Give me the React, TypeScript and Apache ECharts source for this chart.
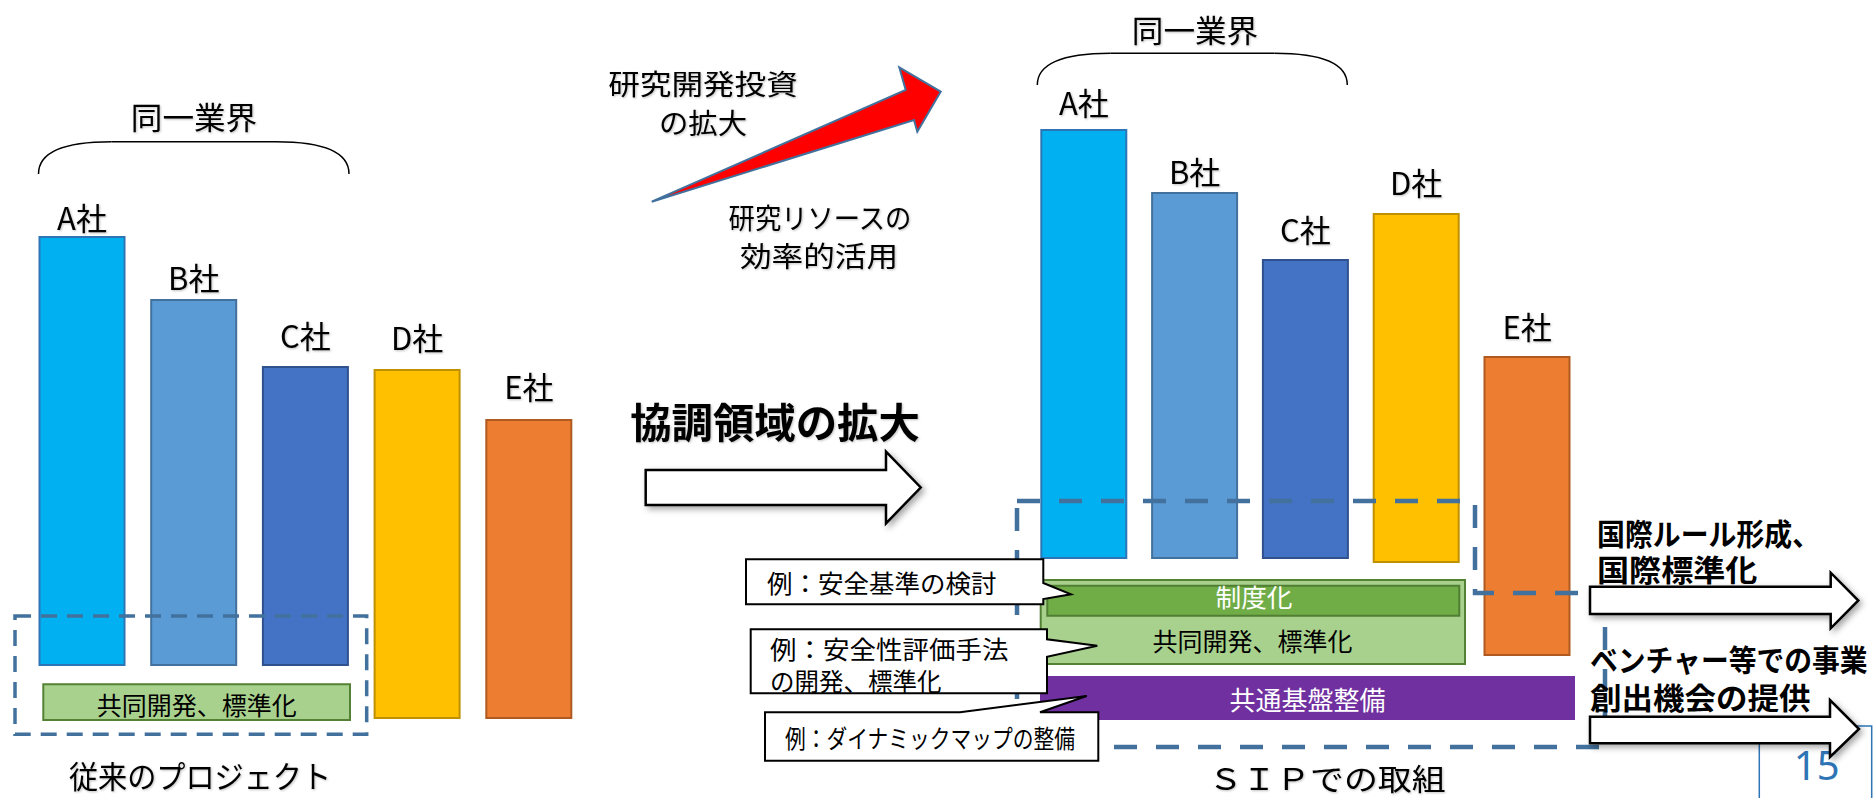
import React, { useEffect, useRef } from 'react';
import * as echarts from 'echarts';

// ---- data ----
const companies = ['A社', 'B社', 'C社', 'D社', 'E社'];
// individual R&D scale of each company (same in both panels)
const companyScale = [430, 367, 300, 350, 300];
// floor level of each company's bar (conventional project / SIP)
const legacyFloor = [132, 132, 132, 79, 79];
const sipFloor = [239, 239, 239, 235, 142];

const industryLabel = '同一業界';
const legacyTitle = '従来のプロジェクト';
const sipTitle = 'ＳＩＰでの取組';
const investLines = ['研究開発投資', 'の拡大'];
const resourceLines = ['研究リソースの', '効率的活用'];
const coopTitle = '協調領域の拡大';
const jointDev = '共同開発、標準化';
const institution = '制度化';
const platform = '共通基盤整備';
const example1 = ['例：安全基準の検討'];
const example2 = ['例：安全性評価手法', 'の開発、標準化'];
const example3 = ['例：ダイナミックマップの整備'];
const outcome1 = ['国際ルール形成、', '国際標準化'];
const outcome2 = ['ベンチャー等での事業', '創出機会の提供'];
const pageNo = '15';

// ---- styles ----
const barColors = ['#00B0F0', '#5B9BD5', '#4472C4', '#FFC000', '#ED7D31'];
const barBorders = ['#2E75B6', '#41719C', '#2F528F', '#BF9000', '#AE5A21'];
const legacyLabelGap = [4, 7.5, 16.5, 17, 18];
const sipLabelGap = [12, 6.5, 15, 16, 15.5];
const FONT = "'Noto Sans CJK JP', 'Noto Sans CJK SC', sans-serif";
const DASH = '#41719C';

function txt(text: string, x: number, y: number, size: number, o: any = {}) {
  return {
    type: 'text',
    x,
    y,
    z: 10,
    scaleX: o.sx ?? 1,
    style: {
      text,
      fill: o.color ?? '#000',
      fontSize: size,
      fontFamily: FONT,
      fontWeight: o.bold ? 'bold' : 'normal',
      align: o.align ?? 'center',
      verticalAlign: 'middle',
      textShadowColor: o.shadow === false ? 'transparent' : 'rgba(0,0,0,0.25)',
      textShadowBlur: o.shadow === false ? 0 : 2,
      textShadowOffsetX: o.shadow === false ? 0 : 1,
      textShadowOffsetY: o.shadow === false ? 0 : 1,
    },
  };
}

function poly(points: number[][], style: any) {
  return { type: 'polygon', z: 10, shape: { points }, style };
}

function rect(x: number, y: number, w: number, h: number, style: any) {
  return { type: 'rect', z: 10, shape: { x, y, width: w, height: h }, style };
}

function brace(x1: number, x2: number, top: number, end: number) {
  const s = { stroke: '#000', lineWidth: 1.5, fill: 'none' };
  const h = end - top;
  return [
    { type: 'bezierCurve', z: 10, shape: { x1, y1: end, cpx1: x1, cpy1: top + h * 0.35, cpx2: x1 + 24, cpy2: top, x2: x1 + 73, y2: top }, style: s },
    { type: 'line', z: 10, shape: { x1: x1 + 73, y1: top, x2: x2 - 73, y2: top }, style: s },
    { type: 'bezierCurve', z: 10, shape: { x1: x2 - 73, y1: top, cpx1: x2 - 24, cpy1: top, cpx2: x2, cpy2: top + h * 0.35, x2, y2: end }, style: s },
  ];
}

const arrowStyle = {
  fill: '#fff',
  stroke: '#000',
  lineWidth: 2.5,
  shadowBlur: 6,
  shadowColor: 'rgba(0,0,0,0.35)',
  shadowOffsetX: 3,
  shadowOffsetY: 3,
};
const calloutStyle = { fill: '#fff', stroke: '#000', lineWidth: 2 };

function barSeries(gridIdx: number, stack: string, floor: number[], gaps: number[]) {
  return [
    {
      type: 'bar',
      xAxisIndex: gridIdx,
      yAxisIndex: gridIdx,
      stack,
      barWidth: 87,
      silent: true,
      data: floor,
      itemStyle: { color: 'transparent', borderWidth: 0 },
    },
    {
      type: 'bar',
      xAxisIndex: gridIdx,
      yAxisIndex: gridIdx,
      stack,
      barWidth: 87,
      data: companyScale.map((v, i) => ({
        value: v,
        itemStyle: { color: barColors[i], borderColor: barBorders[i], borderWidth: 2 },
        label: { distance: gaps[i] },
      })),
      label: {
        show: true,
        position: 'top',
        formatter: '{b}',
        fontSize: 31,
        lineHeight: 31,
        color: '#000',
        fontFamily: FONT,
        textShadowColor: 'rgba(0,0,0,0.25)',
        textShadowBlur: 2,
        textShadowOffsetX: 1,
        textShadowOffsetY: 1,
      },
    },
  ];
}

export default function App() {
  const ref = useRef<HTMLDivElement>(null);
  useEffect(() => {
    document.body.style.margin = '0';
    const chart = echarts.init(ref.current!, null, { renderer: 'svg' });

    const elements: any[] = [
      // ---- left panel ----
      ...brace(38.5, 349, 141.8, 174),
      txt(industryLabel, 194, 116, 31, { sx: 1.02 }),
      rect(15, 616, 351.7, 118.3, { fill: 'none', stroke: DASH, lineWidth: 3.5, lineDash: [16, 10] }),
      rect(43.3, 684.3, 306.7, 35.7, { fill: '#A9D18E', stroke: '#548235', lineWidth: 2 }),
      txt(jointDev, 196.7, 703.5, 25, { shadow: false }),
      txt(legacyTitle, 200, 775, 31, { sx: 0.94 }),

      // ---- middle ----
      txt(investLines[0], 703, 82.5, 28, { sx: 1.13 }),
      txt(investLines[1], 703, 121.5, 28, { sx: 1.05 }),
      poly([[651.7, 201.7], [905.7, 90], [899.3, 67.3], [940.7, 91.7], [917.3, 131.7], [914, 120]], {
        fill: '#FF0000', stroke: DASH, lineWidth: 2,
      }),
      txt(resourceLines[0], 820, 216.5, 28, { sx: 0.94 }),
      txt(resourceLines[1], 819, 255, 28, { sx: 1.13 }),
      txt(coopTitle, 775, 420, 41, { bold: true, sx: 1.01 }),
      poly([[645.7, 470], [886, 470], [886, 451.7], [920.7, 487.5], [886, 523.3], [886, 505], [645.7, 505]], arrowStyle),

      // ---- right panel ----
      ...brace(1037.3, 1347.3, 53.3, 85),
      txt(industryLabel, 1195, 29, 31, { sx: 1.02 }),
      poly([[1017, 501], [1475, 501], [1475, 593], [1605, 593], [1605, 747], [1017, 747]], {
        fill: 'none', stroke: DASH, lineWidth: 4.5, lineDash: [23, 19],
      }),
      rect(1040.7, 580, 424.3, 84, { fill: '#A9D18E', stroke: '#548235', lineWidth: 2 }),
      rect(1047.3, 585.7, 412, 30, { fill: '#70AD47', stroke: '#507E32', lineWidth: 2 }),
      txt(institution, 1254, 596, 25, { color: '#fff', shadow: false, sx: 1.03 }),
      txt(jointDev, 1252.5, 639.5, 25, { shadow: false }),
      rect(1040, 676, 535, 44, { fill: '#7030A0', stroke: 'none' }),
      txt(platform, 1307.5, 698, 26, { color: '#fff', shadow: false }),
      txt(sipTitle, 1327, 777, 30, { sx: 1.13 }),

      // callouts
      poly([[746, 559.3], [1043.3, 559.3], [1043.3, 583], [1071, 594.3], [1043.3, 599], [1043.3, 604.3], [746, 604.3]], calloutStyle),
      txt(example1[0], 767, 582.5, 25, { align: 'left', sx: 1.02, shadow: false }),
      poly([[750.7, 629.3], [1047, 629.3], [1047, 639.3], [1097.3, 645.7], [1047, 656.7], [1047, 693.3], [750.7, 693.3]], calloutStyle),
      txt(example2[0], 770, 647.5, 25, { align: 'left', sx: 1.06, shadow: false }),
      txt(example2[1], 770, 680, 25, { align: 'left', sx: 0.98, shadow: false }),
      poly([[765, 712.3], [960, 712.3], [1086.7, 696], [1040, 712.3], [1098.3, 712.3], [1098.3, 760.7], [765, 760.7]], calloutStyle),
      txt(example3[0], 785, 737.5, 25, { align: 'left', sx: 0.83, shadow: false }),

      // page number
      rect(1759.3, 726, 112.4, 100, { fill: 'none', stroke: '#2E75B6', lineWidth: 1.5 }),
      {
        type: 'text', x: 1816.7, y: 764, z: 10,
        style: { text: pageNo, fill: '#2E75B6', fontSize: 40, fontFamily: "'Noto Sans', sans-serif", align: 'center', verticalAlign: 'middle' },
      },

      // outcome arrows
      poly([[1590, 586.7], [1830.7, 586.7], [1830.7, 572.7], [1858.3, 600.5], [1830.7, 628.3], [1830.7, 614], [1590, 614]], arrowStyle),
      poly([[1590, 716.7], [1830, 716.7], [1830, 700], [1859, 729], [1830, 757], [1830, 743.3], [1590, 743.3]], arrowStyle),
      txt(outcome1[0], 1597, 532, 30, { bold: true, align: 'left', sx: 0.93, shadow: false }),
      txt(outcome1[1], 1597, 568, 30, { bold: true, align: 'left', sx: 1.07, shadow: false }),
      txt(outcome2[0], 1590, 657.5, 30, { bold: true, align: 'left', sx: 0.927, shadow: false }),
      txt(outcome2[1], 1590, 695.5, 30, { bold: true, align: 'left', sx: 1.05, shadow: false }),
    ];

    chart.setOption({
      animation: false,
      grid: [
        { left: 26.15, top: 0, width: 558.5, height: 798 },
        { left: 1028.4, top: 0, width: 554, height: 798 },
      ],
      xAxis: [
        { type: 'category', gridIndex: 0, data: companies, show: false },
        { type: 'category', gridIndex: 1, data: companies, show: false },
      ],
      yAxis: [
        { type: 'value', gridIndex: 0, min: 0, max: 798, show: false },
        { type: 'value', gridIndex: 1, min: 0, max: 798, show: false },
      ],
      series: [
        ...barSeries(0, 'legacy', legacyFloor, legacyLabelGap),
        ...barSeries(1, 'sip', sipFloor, sipLabelGap),
      ],
      graphic: { elements },
    });
    return () => chart.dispose();
  }, []);
  return <div ref={ref} style={{ position: 'absolute', left: 0, top: 0, width: 1874, height: 798 }} />;
}
